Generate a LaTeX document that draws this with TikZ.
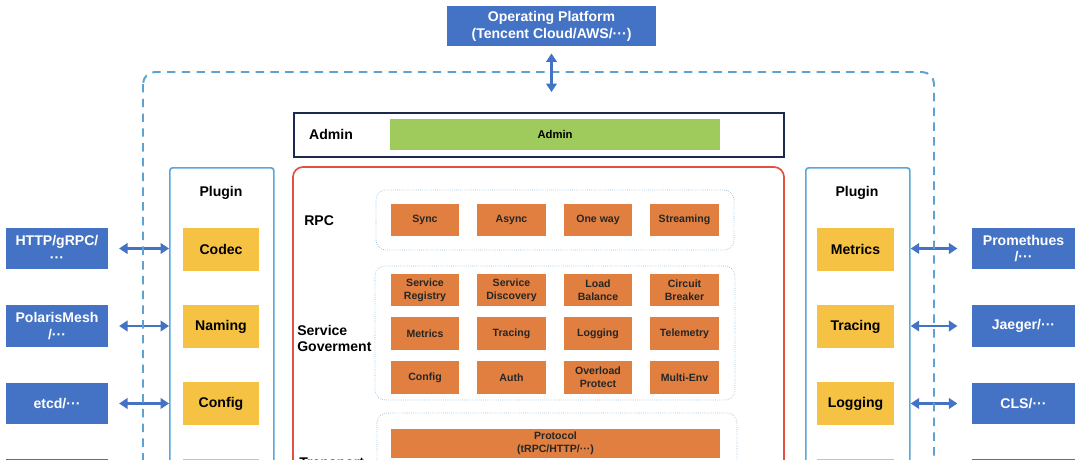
\documentclass[tikz,border=0pt]{standalone}
\usepackage{fontspec}
\setmainfont{Liberation Sans}
\usetikzlibrary{arrows.meta}
\definecolor{boxblue}{HTML}{4472C4}
\definecolor{pluginyellow}{HTML}{F5C243}
\definecolor{coreorange}{HTML}{E07F40}
\definecolor{admingreen}{HTML}{9FCB5C}
\definecolor{corered}{HTML}{E0523F}
\definecolor{adminnavy}{HTML}{1B2A4E}
\definecolor{pluginline}{HTML}{5BA7DB}
\definecolor{outerline}{HTML}{5DA2D2}
\definecolor{groupline}{HTML}{93BCD8}
\newcommand{\tdots}{···}

\begin{document}
\begin{tikzpicture}[x=0.025cm, y=-0.025cm,
    ext/.style={fill=boxblue, text=white, font=\fontsize{10}{12}\selectfont\bfseries, minimum width=2.55cm, minimum height=1.04cm, align=center, inner sep=0},
    plug/.style={fill=pluginyellow, text=black, font=\fontsize{10}{12}\selectfont\bfseries, minimum width=1.9cm, minimum height=1.075cm, inner sep=0},
    feat/.style={fill=coreorange, text=black!85, font=\fontsize{7.5}{9}\selectfont\bfseries, minimum width=1.7cm, minimum height=0.8cm, align=center, inner sep=0},
    plugframe/.style={draw=pluginline, line width=1.2pt, rounded corners=2pt, minimum width=2.6cm, minimum height=12cm, inner sep=0},
    group/.style={draw=groupline, densely dotted, line width=0.5pt, rounded corners=0.25cm},
    lbl/.style={font=\fontsize{10}{12}\selectfont\bfseries, inner sep=0, align=left},
    outer/.style={draw=outerline, line width=1.4pt, dash pattern=on 6pt off 4.5pt, rounded corners=0.3cm},
    biarrow/.style={boxblue, line width=1.8pt, {Triangle[length=6pt,width=7.5pt]}-{Triangle[length=6pt,width=7.5pt]}}]
    \useasboundingbox (0,0) rectangle (1080,460);
    \clip (0,0) rectangle (1080,460);

    \node[ext, minimum width=5.225cm, minimum height=1cm] (platform) at (551.5,26) {Operating Platform\\(Tencent Cloud/AWS/\tdots)};

    \node[draw=adminnavy, line width=1.4pt, minimum width=12.25cm, minimum height=1.1cm, inner sep=0] (adminbox) at (539,135) {};
    \node[lbl] (adminlbl) at (331,134) {Admin};
    \node[fill=admingreen, minimum width=8.25cm, minimum height=0.775cm, font=\fontsize{8}{9}\selectfont\bfseries, inner sep=0] (adminbar) at (555,134.5) {Admin};

    \draw[corered, line width=1.2pt, rounded corners=0.25cm] (293,167) rectangle (784,640);

    \node[plugframe, anchor=north west] (plugL) at (169,167) {};
    \node[plugframe, anchor=north west] (plugR) at (805,167) {};
    \node[lbl] (plugLtitle) at (221,193) {Plugin};
    \node[lbl] (plugRtitle) at (857,193) {Plugin};

    \node[plug] (codec) at (221,249.5) {Codec};
    \node[plug] (naming) at (221,326.5) {Naming};
    \node[plug] (config) at (221,403.5) {Config};
    \node[plug] (plugL4) at (221,480.5) {};
    \node[plug] (metrics) at (855.5,249.5) {Metrics};
    \node[plug] (tracing) at (855.5,326.5) {Tracing};
    \node[plug] (logging) at (855.5,403.5) {Logging};
    \node[plug] (plugR4) at (855.5,480.5) {};

    \node[ext] (http) at (57,248.5) {HTTP/gRPC/\\\tdots};
    \node[ext] (polaris) at (57,326) {PolarisMesh\\/\tdots};
    \node[ext] (etcd) at (57,403.5) {etcd/\tdots};
    \node[ext] (extL4) at (57,479.5) {};
    \node[ext] (prom) at (1023.5,248.5) {Promethues\\/\tdots};
    \node[ext] (jaeger) at (1023.5,326) {Jaeger/\tdots};
    \node[ext] (cls) at (1023.5,403.5) {CLS/\tdots};
    \node[ext] (extR4) at (1023.5,479.5) {};

    \draw[group] (376,190) rectangle (734,250);
    \draw[group] (375,266) rectangle (735,400);
    \draw[group] (377,413) rectangle (737,640);

    \node[lbl, anchor=west] (rpclbl) at (304,221) {RPC};
    \node[lbl, anchor=west] (svclbl) at (297,338.5) {Service\\Goverment};
    \node[lbl, anchor=north west] (translbl) at (299,457.5) {Transport};

    \foreach \name/\x/\txt in {sync/425/Sync, async/511.5/Async, oneway/598/One way, streaming/684.5/Streaming}
      \node[feat] (\name) at (\x,220) {\txt};
    \foreach \name/\x/\txt in {registry/425/Service\\Registry, discovery/511.5/Service\\Discovery, balance/598/Load\\Balance, breaker/684.5/Circuit\\Breaker}
      \node[feat] (\name) at (\x,290) {\txt};
    \foreach \name/\x/\txt in {gmetrics/425/Metrics, gtracing/511.5/Tracing, glogging/598/Logging, telemetry/684.5/Telemetry}
      \node[feat] (\name) at (\x,333.5) {\txt};
    \foreach \name/\x/\txt in {gconfig/425/Config, auth/511.5/Auth, overload/598/Overload\\Protect, multienv/684.5/Multi-Env}
      \node[feat] (\name) at (\x,377.5) {\txt};
    \node[feat, minimum width=8.225cm, minimum height=0.725cm, font=\fontsize{7.5}{9.5}\selectfont\bfseries] (protocol) at (555.5,443.5) {Protocol\\(tRPC/HTTP/\tdots)};

    \draw[biarrow, shorten <=0.27cm] (http.east) -- (http.east -| plugL.west);
    \draw[biarrow, shorten <=0.27cm] (polaris.east) -- (polaris.east -| plugL.west);
    \draw[biarrow, shorten <=0.27cm] (etcd.east) -- (etcd.east -| plugL.west);
    \draw[biarrow, shorten >=0.37cm] (prom.west -| plugR.east) -- (prom.west);
    \draw[biarrow, shorten >=0.37cm] (jaeger.west -| plugR.east) -- (jaeger.west);
    \draw[biarrow, shorten >=0.37cm] (cls.west -| plugR.east) -- (cls.west);

    \draw[outer] (143,72) rectangle (934,640);

    \coordinate (hub) at (551.5,92);
    \draw[biarrow, shorten <=0.18cm] (platform.south) -- (hub);
  \end{tikzpicture}
\end{document}
